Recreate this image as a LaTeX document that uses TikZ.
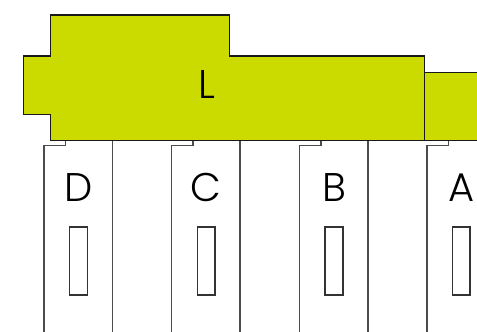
\documentclass[tikz,border=0pt]{standalone}
\usepackage{fontspec}
\setmainfont{Poppins Light}
\definecolor{lime}{HTML}{CBDB00}
\tikzset{
  block/.style={draw=black!90, line width=1.5pt, fill=lime},
  pin/.style={draw=black!70, line width=1.5pt},
  slot/.style={draw=black!80, line width=1.5pt, fill=white},
  tag/.style={inner sep=0pt, font=\fontsize{40}{40}\selectfont},
}
\begin{document}
\begin{tikzpicture}[x=1pt, y=-1pt]
    \clip (0,0) rectangle (477,332);
    % pins
    \draw[pin] (44,333) |- (65.5,145.5) -- (65.5,140.5) (112.5,140.5) -- (112.5,333);
    \draw[pin] (171.5,333) |- (193,145.5) -- (193,140.5) (240,140.5) -- (240,333);
    \draw[pin] (299.5,333) |- (321,145.5) -- (321,140.5) (368,140.5) -- (368,333);
    \draw[pin] (427,333) |- (448.5,145.5) -- (448.5,140.5);
    % slots
    \draw[slot] (69.5,227) rectangle (87.5,295);
    \draw[slot] (197.5,227) rectangle (215,295);
    \draw[slot] (325,227) rectangle (343,295);
    \draw[slot] (452.5,227) rectangle (470,295);
    % body
    \draw[block] (50.5,15) -- (229.5,15) -- (229.5,56) -- (424.5,56) -- (424.5,140.5) -- (50.5,140.5)
        -- (50.5,114.5) -- (23.5,114.5) -- (23.5,56) -- (50.5,56) -- cycle;
    \draw[block] (424.5,72.5) rectangle (480,140.5);
    % labels
    \node[tag] (labelL) at (206.5,84.5) {L};
    \node[tag] (labelD) at (78.5,187.5) {D};
    \node[tag] (labelC) at (206,187.5) {C};
    \node[tag] (labelB) at (334,187.5) {B};
    \node[tag] (labelA) at (462,187.5) {A};
\end{tikzpicture}
\end{document}
